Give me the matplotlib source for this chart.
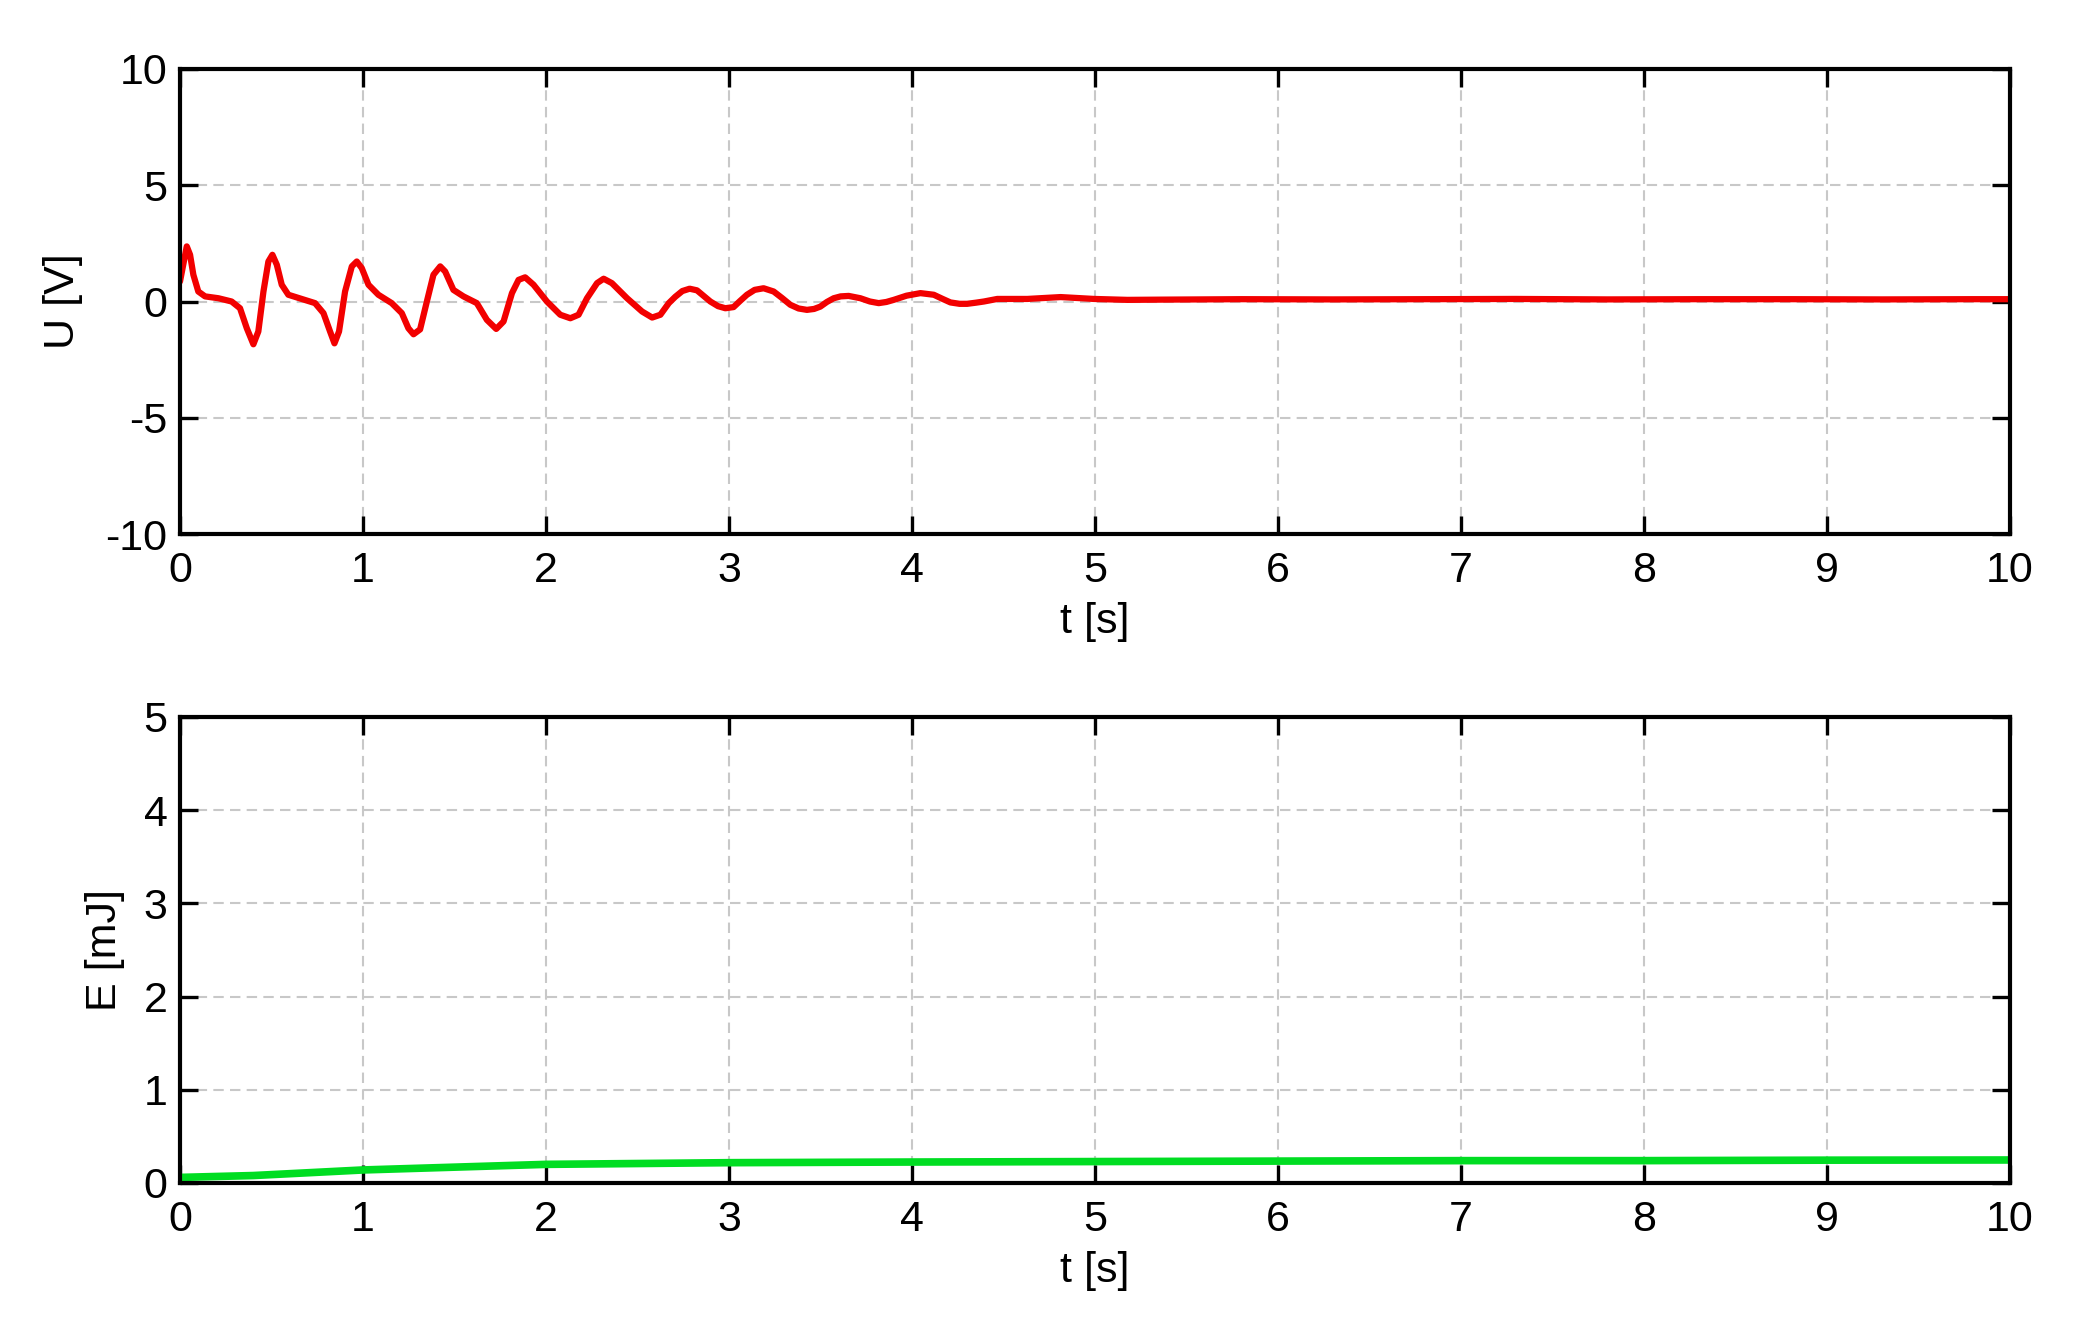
import numpy as np
import matplotlib.pyplot as plt

# ---- data ----
t_u = [0.0, 0.037, 0.055, 0.073, 0.1, 0.137, 0.21, 0.282, 0.328, 0.365, 0.401, 0.428,
       0.456, 0.483, 0.505, 0.529, 0.556, 0.592, 0.665, 0.738, 0.784, 0.82, 0.844,
       0.869, 0.902, 0.939, 0.966, 0.993, 1.03, 1.084, 1.157, 1.212, 1.248, 1.276,
       1.312, 1.349, 1.385, 1.422, 1.449, 1.494, 1.549, 1.622, 1.677, 1.728, 1.768,
       1.814, 1.85, 1.886, 1.932, 2.005, 2.078, 2.133, 2.178, 2.224, 2.279, 2.315,
       2.36, 2.443, 2.525, 2.58, 2.625, 2.671, 2.706, 2.745, 2.785, 2.825, 2.86,
       2.898, 2.94, 2.98, 3.025, 3.06, 3.098, 3.14, 3.189, 3.244, 3.29, 3.335,
       3.38, 3.426, 3.465, 3.499, 3.535, 3.572, 3.61, 3.654, 3.718, 3.77, 3.818,
       3.86, 3.9, 3.97, 4.046, 4.119, 4.165, 4.21, 4.26, 4.301, 4.35, 4.393,
       4.466, 4.63, 4.812, 4.995, 5.177, 5.36, 5.8, 6.3, 6.8, 7.3, 7.8, 8.3,
       8.8, 9.3, 9.8, 10.0]
u = [0.86, 2.37, 2.01, 1.15, 0.43, 0.22, 0.14, 0.0, -0.29, -1.15, -1.84, -1.29,
     0.43, 1.72, 2.01, 1.58, 0.72, 0.29, 0.11, -0.07, -0.5, -1.29, -1.8,
     -1.29, 0.43, 1.51, 1.72, 1.44, 0.72, 0.29, -0.07, -0.5, -1.15, -1.41,
     -1.2, 0.0, 1.15, 1.51, 1.29, 0.5, 0.22, -0.07, -0.79, -1.18, -0.86,
     0.36, 0.93, 1.04, 0.72, 0.0, -0.57, -0.72, -0.57, 0.14, 0.79, 0.98,
     0.79, 0.14, -0.43, -0.69, -0.57, -0.07, 0.2, 0.45, 0.55, 0.48, 0.25,
     0.0, -0.2, -0.29, -0.24, 0.02, 0.29, 0.5, 0.57, 0.43, 0.15, -0.14,
     -0.3, -0.36, -0.32, -0.22, -0.02, 0.14, 0.22, 0.24, 0.14, 0.0, -0.07,
     -0.02, 0.07, 0.25, 0.36, 0.29, 0.12, -0.04, -0.1, -0.1, -0.05, 0.0,
     0.11, 0.11, 0.19, 0.11, 0.07, 0.08, 0.1, 0.09, 0.1, 0.11, 0.09, 0.1,
     0.1, 0.09, 0.1, 0.1]

t_e = [0.0, 0.4, 1.0, 1.5, 2.0, 3.0, 4.0, 5.0, 6.0, 7.0, 8.0, 9.0, 10.0]
e = [0.06, 0.08, 0.14, 0.17, 0.2, 0.218, 0.225, 0.23, 0.235, 0.24, 0.24, 0.245, 0.247]

x_ticks = list(range(0, 11))
u_ticks = [-10, -5, 0, 5, 10]
e_ticks = [0, 1, 2, 3, 4, 5]

plt.rcParams['font.family'] = ['Liberation Sans', 'DejaVu Sans']
plt.rcParams['font.size'] = 31
plt.rcParams['axes.unicode_minus'] = False

W, H = 2089, 1330
fig = plt.figure(figsize=(W / 100, H / 100), dpi=100)


def style(ax, yticks):
    ax.set_xlim(0, 10)
    ax.set_ylim(yticks[0], yticks[-1])
    ax.set_xticks(x_ticks)
    ax.set_yticks(yticks)
    ax.tick_params(direction='in', length=13, width=2.4, top=True, right=True,
                   pad=9, labelsize=31)
    ax.tick_params(axis='x', pad=12)
    for s in ax.spines.values():
        s.set_linewidth(3)
    ax.grid(True, color='#c8c8c8', linestyle=(0, (5, 3)), linewidth=1.5)
    ax.set_axisbelow(True)
    ax.set_xlabel('t [s]', fontsize=31, labelpad=8)


left, right = 180 / W, 2010 / W
ax1 = fig.add_axes([left, 1 - 534 / H, right - left, (534 - 69) / H])
ax1.plot(t_u, u, color='#f20000', linewidth=4.5, solid_joinstyle='round',
         solid_capstyle='round')
style(ax1, u_ticks)
ax1.set_ylabel('U [V]', fontsize=31, labelpad=16)

ax2 = fig.add_axes([left, 1 - 1183 / H, right - left, (1183 - 717) / H])
ax2.plot(t_e, e, color='#00dd22', linewidth=5.5)
style(ax2, e_ticks)
ax2.set_ylabel('E [mJ]', fontsize=31, labelpad=13)

fig.savefig('out.png', dpi=100)
